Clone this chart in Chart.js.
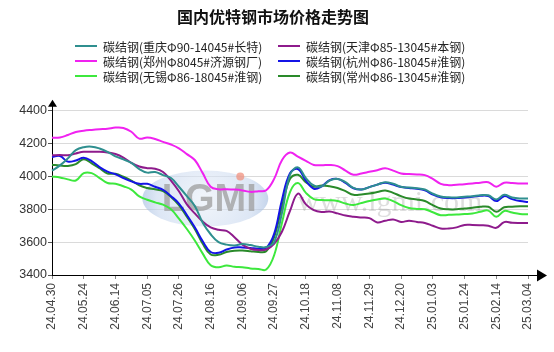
<!DOCTYPE html>
<html><head><meta charset="utf-8">
<script src="https://cdn.jsdelivr.net/npm/chart.js@4"></script>
<style>html,body{margin:0;padding:0;background:#fff}#wrap{width:554px;height:352px;position:relative}</style>
</head><body><div id="wrap"><canvas id="c" width="554" height="352"></canvas></div>
<script>
// ---------- data ----------
const chartTitle = '国内优特钢市场价格走势图';
const tickDates = ['24.04.30','24.05.24','24.06.14','24.07.05','24.07.26','24.08.16','24.09.06','24.09.27','24.10.18','24.11.08','24.11.29','24.12.20','25.01.03','25.01.24','25.02.14','25.03.04'];
const stepsPerTick = 4;
const yTicks = [3400, 3600, 3800, 4000, 4200, 4400];
const seriesNames = ['碳结钢(重庆Φ90-14045#长特)','碳结钢(天津Φ85-13045#本钢)','碳结钢(郑州Φ8045#济源钢厂)','碳结钢(杭州Φ86-18045#淮钢)','碳结钢(无锡Φ86-18045#淮钢)','碳结钢(常州Φ86-13045#淮钢)'];
const seriesColors = ['#2f8f8f','#8e1b8c','#f022f0','#1414e6','#3de83d','#2a8a2a'];

const chongqing = [4035,4067,4110,4160,4178,4181,4170,4150,4122,4104,4082,4045,4023,4027,4008,
  3990,3937,3880,3820,3718,3648,3600,3585,3580,3588,3582,3572,3570,
  3600,3780,4010,4055,
  3990,3945,3940,3975,3985,3965,3930,3920,3935,3950,3965,3955,3937,3932,3928,3920,
  3895,3878,3873,3872,3876,3880,3886,3885,3860,3888,3872,3866,3866];
const tianjin = [4129,4130,4129,4140,4150,4150,4150,4146,4136,4115,4083,4060,4050,4047,4027,
  3975,3910,3830,3775,3725,3690,3675,3668,3630,3585,3560,3552,3555,
  3590,3665,3790,3895,
  3830,3795,3784,3786,3775,3762,3755,3750,3746,3720,3730,3738,3723,3730,3723,3717,
  3700,3683,3683,3690,3705,3705,3703,3700,3687,3722,3718,3717,3717];
const zhengzhou = [4235,4237,4252,4270,4278,4283,4287,4290,4297,4295,4272,4230,4237,4228,4210,
  4194,4171,4136,4100,4020,3937,3922,3922,3920,3915,3906,3910,3916,
  3985,4100,4145,4120,
  4095,4070,4068,4070,4063,4035,4010,4018,4028,4038,4049,4035,4018,4014,4012,4008,
  3985,3955,3947,3950,3953,3957,3962,3965,3937,3962,3960,3957,3957];
const hangzhou = [4118,4124,4090,4097,4114,4093,4057,4029,4013,3990,3970,3955,3955,3937,3918,
  3880,3835,3765,3690,3605,3540,3535,3555,3568,3568,3565,3560,3565,
  3650,3860,4020,4045,
  3975,3925,3940,3978,3985,3960,3928,3920,3935,3950,3962,3950,3935,3930,3925,3915,
  3890,3873,3868,3868,3872,3876,3882,3880,3850,3880,3862,3850,3845];
const wuxi = [4000,3994,3982,3975,4020,4020,3990,3960,3956,3940,3920,3878,3858,3842,3828,
  3800,3743,3680,3610,3530,3460,3447,3458,3450,3447,3440,3437,3433,
  3520,3720,3905,3960,
  3900,3862,3856,3855,3850,3835,3826,3838,3850,3860,3866,3850,3825,3808,3802,3800,
  3782,3764,3766,3768,3771,3774,3785,3792,3754,3790,3780,3772,3770];
const changzhou = [4071,4066,4064,4075,4105,4080,4050,4018,4016,3998,3975,3945,3930,3922,3910,
  3875,3825,3755,3680,3590,3525,3523,3540,3548,3549,3545,3540,3545,
  3630,3820,3985,4010,
  3965,3937,3945,3940,3930,3910,3888,3890,3896,3905,3915,3900,3880,3865,3860,3850,
  3825,3805,3800,3800,3805,3809,3815,3815,3785,3812,3815,3818,3819];
const seriesValues = [chongqing, tianjin, zhengzhou, hangzhou, wuxi, changzhou];

// ---------- categories (trading-day steps between labelled dates) ----------
function parseD(s){ const p = s.split('.').map(Number); return Date.UTC(2000+p[0], p[1]-1, p[2]); }
function fmtD(t){ const d = new Date(t); const z = n => String(n).padStart(2,'0');
  return z(d.getUTCFullYear()-2000)+'.'+z(d.getUTCMonth()+1)+'.'+z(d.getUTCDate()); }
const categories = [];
for (let k = 0; k < tickDates.length-1; k++) {
  const a = parseD(tickDates[k]), b = parseD(tickDates[k+1]);
  const days = (b-a)/86400000;
  for (let j = 0; j < stepsPerTick; j++) {
    categories.push(j === 0 ? tickDates[k] : fmtD(a + Math.round(days*j/stepsPerTick)*86400000));
  }
}
categories.push(tickDates[tickDates.length-1]);

// ---------- decorations: watermark, axis arrows, two-column legend ----------
const decor = {
  id: 'decor',
  beforeDatasetsDraw(chart) {
    const {ctx, chartArea: a} = chart;
    const w = a.right - a.left, h = a.bottom - a.top;
    const cx = a.left + w*0.322, cy = a.top + h*0.535;
    ctx.save();
    ctx.globalAlpha = 0.6;
    const g = ctx.createRadialGradient(cx, cy, 5, cx, cy, 63);
    g.addColorStop(0, '#e4ecf7'); g.addColorStop(0.75, '#c6d6ee'); g.addColorStop(1, '#9fb9de');
    ctx.fillStyle = g;
    ctx.beginPath(); ctx.ellipse(cx, cy, 63, 28, 0, 0, Math.PI*2); ctx.fill();
    ctx.globalAlpha = 0.75;
    ctx.fillStyle = '#9c9c9c';
    ctx.font = 'bold 38px "Liberation Sans"';
    ctx.textAlign = 'center'; ctx.textBaseline = 'middle';
    ctx.fillText('LGMI', cx+4, cy+2);
    ctx.fillStyle = '#f0907e';
    ctx.beginPath(); ctx.arc(cx+35, cy-22, 4, 0, Math.PI*2); ctx.fill();
    ctx.globalAlpha = 0.28;
    ctx.fillStyle = '#8a8a8a';
    ctx.font = '30px "Liberation Serif"';
    ctx.fillText('www.lgmi.com', a.left + w*0.71, a.top + h*0.56);
    ctx.restore();
  },
  afterDraw(chart) {
    const {ctx, chartArea: a} = chart;
    ctx.save();
    ctx.strokeStyle = '#000'; ctx.fillStyle = '#000'; ctx.lineWidth = 1;
    // y axis arrow
    const xl = Math.round(a.left) + 0.5;
    ctx.beginPath(); ctx.moveTo(xl, a.top); ctx.lineTo(xl, a.top-5); ctx.stroke();
    ctx.beginPath(); ctx.moveTo(xl-4.5, a.top-4); ctx.lineTo(xl+4.5, a.top-4); ctx.lineTo(xl, a.top-11); ctx.closePath(); ctx.fill();
    // x axis arrow
    const yb = Math.round(a.bottom) + 0.5;
    ctx.beginPath(); ctx.moveTo(a.right, yb); ctx.lineTo(a.right+10, yb); ctx.stroke();
    ctx.beginPath(); ctx.moveTo(a.right+9, yb-6); ctx.lineTo(a.right+9, yb+6); ctx.lineTo(a.right+19, yb); ctx.closePath(); ctx.fill();
    // legend (2 columns, row-major order)
    const cols = [75, 278], rows = [46, 61, 76];
    ctx.font = '12px "Noto Sans CJK SC"';
    ctx.textAlign = 'left'; ctx.textBaseline = 'middle';
    chart.data.datasets.forEach((ds, i) => {
      const x = cols[i % 2], y = rows[Math.floor(i/2)];
      ctx.strokeStyle = ds.borderColor; ctx.lineWidth = 2;
      ctx.beginPath(); ctx.moveTo(x, y); ctx.lineTo(x+22, y); ctx.stroke();
      ctx.fillStyle = '#222';
      ctx.fillText(ds.label, x+28, y+1);
    });
    ctx.restore();
  }
};

new Chart(document.getElementById('c'), {
  type: 'line',
  data: {
    labels: categories,
    datasets: seriesNames.map((n, i) => ({
      label: n, data: seriesValues[i], borderColor: seriesColors[i], backgroundColor: seriesColors[i],
      borderWidth: 2, pointRadius: 0, tension: 0.4, fill: false
    }))
  },
  options: {
    responsive: false, animation: false, devicePixelRatio: 1,
    layout: { padding: { left: 0, right: 8, top: 0, bottom: 0 } },
    plugins: {
      legend: { display: false },
      tooltip: { enabled: false },
      title: { display: true, text: chartTitle, color: '#111',
        font: { family: '"Noto Sans CJK SC"', size: 16, weight: 'bold' },
        padding: { top: 7, bottom: 84.5 } }
    },
    scales: {
      x: {
        type: 'category', offset: false,
        grid: { display: true, drawOnChartArea: false, drawTicks: true, tickLength: 4, color: '#888' },
        border: { display: true, color: '#000', width: 1 },
        ticks: { autoSkip: false, minRotation: 90, maxRotation: 90, padding: 4, color: '#444',
          font: { family: '"Liberation Sans"', size: 12 } },
        afterBuildTicks: s => { s.ticks = s.ticks.filter(t => t.value % stepsPerTick === 0); },
        afterFit: s => { s.height = 77; }
      },
      y: {
        type: 'linear', position: 'left', min: yTicks[0], max: yTicks[yTicks.length-1],
        grid: { color: '#dadada', drawTicks: true, tickLength: 4, tickColor: '#555' },
        border: { display: true, color: '#000', width: 1 },
        ticks: { padding: 1, color: '#333', font: { family: '"Liberation Sans"', size: 12.5 },
          callback: v => String(v) },
        afterBuildTicks: s => { s.ticks = yTicks.map(v => ({ value: v })); },
        afterFit: s => { s.width = 52; }
      },
      y2: {
        type: 'linear', position: 'right', display: true,
        grid: { display: false, drawTicks: false }, border: { display: false },
        ticks: { display: false },
        afterFit: s => { s.width = 18; }
      }
    }
  },
  plugins: [decor]
});
</script>
</body></html>
